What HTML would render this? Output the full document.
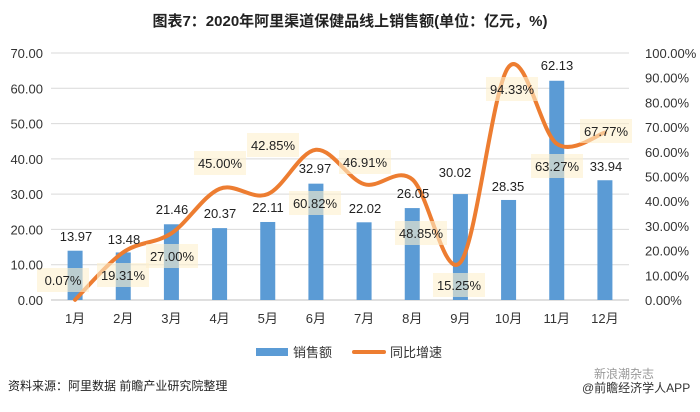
<!DOCTYPE html>
<html><head><meta charset="utf-8"><style>
body{margin:0;background:#fff;}
svg text{font-family:"Liberation Sans","Noto Sans CJK SC",sans-serif;}
</style></head><body>
<svg id="c" width="700" height="407" xmlns="http://www.w3.org/2000/svg">
<text x="350" y="26" text-anchor="middle" font-size="15" font-weight="bold" fill="#222">图表7：2020年阿里渠道保健品线上销售额(单位：亿元，%)</text>
<g id="grid"></g><g id="bars"></g><g id="line"></g><g id="labels"></g><g id="axes"></g>
<g>
<rect x="256" y="348" width="32" height="8" fill="#5b9bd5"/>
<text x="293" y="357" font-size="13" fill="#333">销售额</text>
<rect x="352" y="350" width="34" height="4" rx="2" fill="#ed7d31"/>
<text x="390" y="357" font-size="13" fill="#333">同比增速</text>
</g>
<text x="8" y="390" font-size="12" fill="#222">资料来源：阿里数据 前瞻产业研究院整理</text>
<text x="594" y="378" font-size="12" fill="#999">新浪潮杂志</text>
<text x="582" y="392" font-size="12" fill="#333">@前瞻经济学人APP</text>
</svg>
<script>
const months=["1月","2月","3月","4月","5月","6月","7月","8月","9月","10月","11月","12月"];
const sales=[13.97,13.48,21.46,20.37,22.11,32.97,22.02,26.05,30.02,28.35,62.13,33.94];
const growth=[0.07,19.31,27.00,45.00,42.85,60.82,46.91,48.85,15.25,94.33,63.27,67.77];
const leftTicks=["0.00","10.00","20.00","30.00","40.00","50.00","60.00","70.00"];
const rightTicks=["0.00%","10.00%","20.00%","30.00%","40.00%","50.00%","60.00%","70.00%","80.00%","90.00%","100.00%"];
const salesLabelPos=[[76,236],[124,239],[172,209],[220,213],[268,207],[315,168],[365,208],[413,193],[455,172],[508,186],[557,65],[606,166]];
const growthLabelPos=[[63,280],[123,275],[172,256],[220,163],[273,145],[315,203],[365,162],[421,233],[459,285],[512,89],[557,166],[606,131]];
const X0=51,X1=629,Y0=300,Y1=53,cw=(X1-X0)/months.length;
const xs=i=>X0+cw*(i+0.5), yL=v=>Y0-(v/70)*(Y0-Y1), yR=v=>Y0-(v/100)*(Y0-Y1);
const NS="http://www.w3.org/2000/svg";
function mk(t,p,a){const e=document.createElementNS(NS,t);for(const k in a)e.setAttribute(k,a[k]);p.appendChild(e);return e;}
const grid=document.getElementById('grid'),axes=document.getElementById('axes');
leftTicks.forEach((t,i)=>{const y=yL(i*10);
 const l=mk('line',grid,{x1:X0,x2:X1,y1:y,y2:y,stroke:i?'#d9d9d9':'#bfbfbf','stroke-width':1});
 
 
 const tx=mk('text',axes,{x:43,y:y+5,'text-anchor':'end','font-size':13,fill:'#333'});tx.textContent=t;
 
 });
rightTicks.forEach((t,i)=>{const y=yR(i*10);
 const tx=mk('text',axes,{x:645,y:y+5,'font-size':13,fill:'#333'});tx.textContent=t;
 
 });
const bars=document.getElementById('bars');
sales.forEach((v,i)=>{const r=mk('rect',bars,{x:xs(i)-7.5,y:yL(v),width:15,height:Y0-yL(v),fill:'#5b9bd5'});
 
 
 const tx=mk('text',axes,{x:xs(i),y:323,'text-anchor':'middle','font-size':13,fill:'#333'});tx.textContent=months[i];
 
 });
const pts=growth.map((v,i)=>[xs(i),yR(v)]);
let d='M'+pts[0][0]+','+pts[0][1];
for(let i=0;i<pts.length-1;i++){const p0=pts[i-1]||pts[i],p1=pts[i],p2=pts[i+1],p3=pts[i+2]||p2;
 d+=' C'+(p1[0]+(p2[0]-p0[0])/6)+','+(p1[1]+(p2[1]-p0[1])/6)+' '+(p2[0]-(p3[0]-p1[0])/6)+','+(p2[1]-(p3[1]-p1[1])/6)+' '+p2[0]+','+p2[1];}
const path=mk('path',document.getElementById('line'),{d:d,fill:'none',stroke:'#ed7d31','stroke-width':4,'stroke-linecap':'round'});


const lab=document.getElementById('labels');
sales.forEach((v,i)=>{const [x,y]=salesLabelPos[i];
 const t=mk('text',lab,{x:x,y:y+5,'text-anchor':'middle','font-size':13,fill:'#222'});t.textContent=v.toFixed(2);
 
 });
growth.forEach((v,i)=>{const [x,y]=growthLabelPos[i];
 const r=mk('rect',lab,{x:x-26,y:y-12,width:52,height:24,fill:'rgba(253,240,205,0.6)'});
 
 
 const t=mk('text',lab,{x:x,y:y+5,'text-anchor':'middle','font-size':13,fill:'#222'});t.textContent=v.toFixed(2)+'%';
 
 });
</script>
</body></html>
